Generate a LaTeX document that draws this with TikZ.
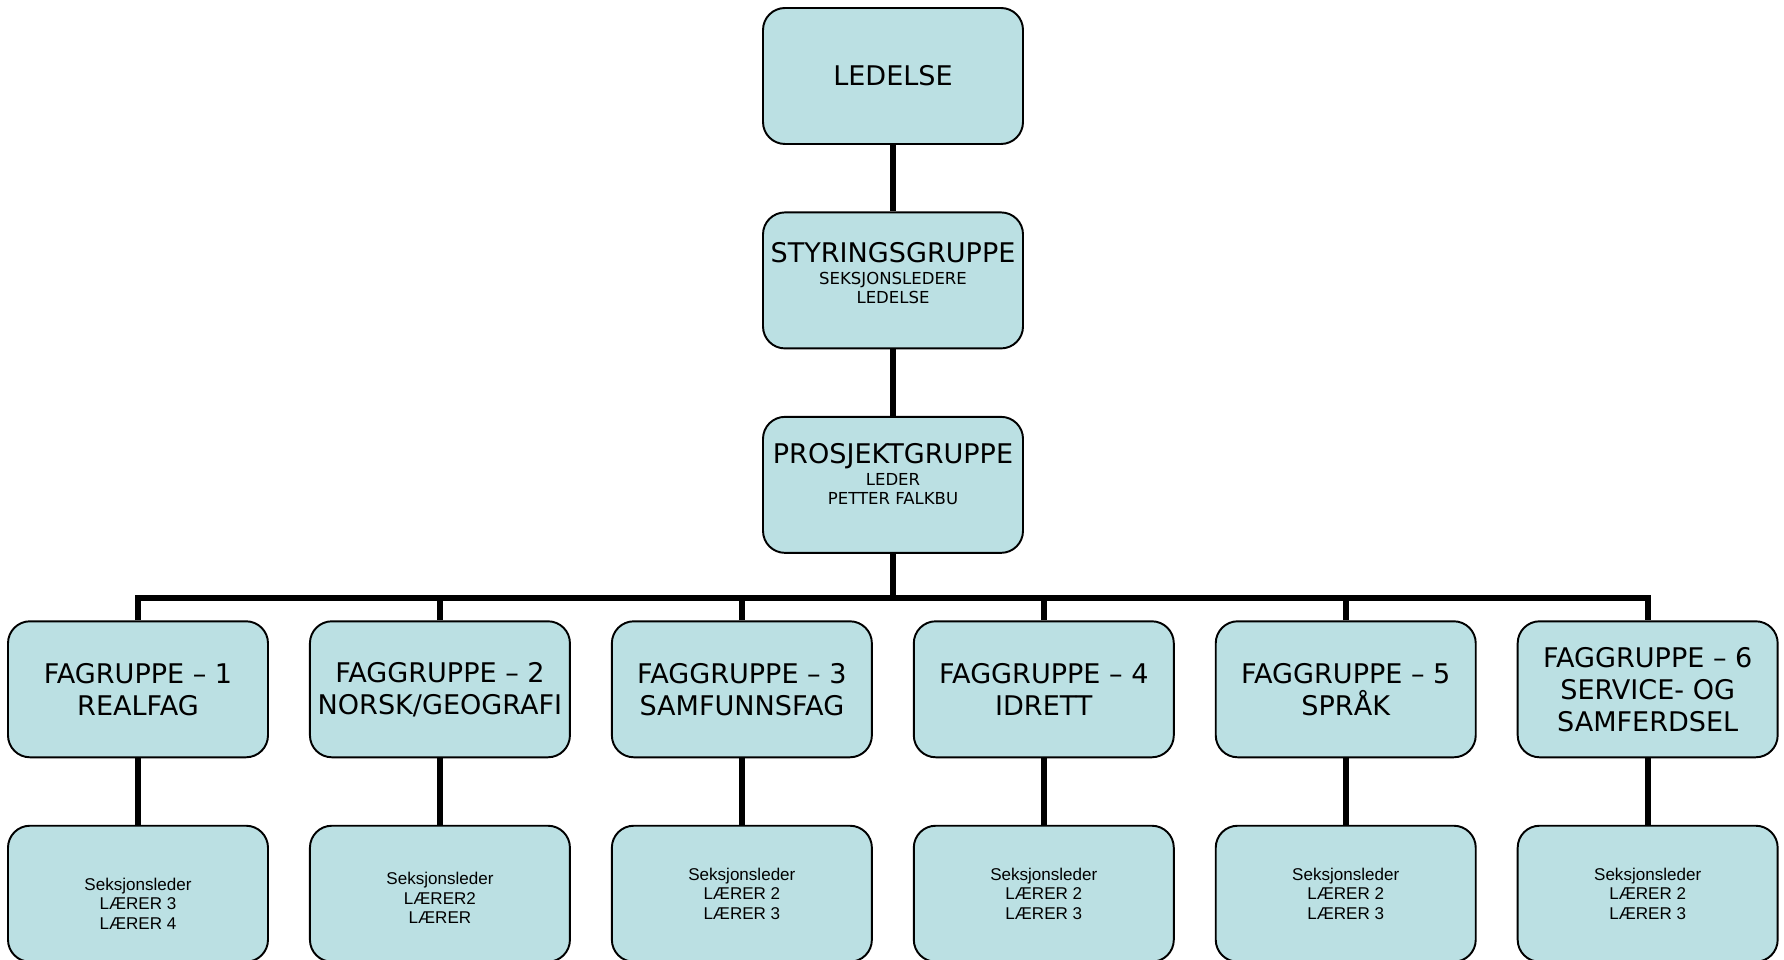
\documentclass[tikz,border=0pt]{standalone}
\usepackage{fontspec}
\setmainfont{DejaVu Sans}
\newfontfamily\lowfont{Liberation Sans}
\usepackage{tikz}
\usetikzlibrary{positioning,calc}

\definecolor{orgfill}{HTML}{BBE0E3}
\newcommand{\headsize}{\fontsize{15.4}{18.2}\selectfont}

\begin{document}
\begin{tikzpicture}[
    node distance=1.33cm and 0.80cm,
    unit/.style={rectangle, draw=black, line width=1.1pt, rounded corners=12.5pt, fill=orgfill, minimum width=5.2cm, minimum height=2.72cm, inner sep=0pt, align=center},
    unit_head/.style={unit, font=\headsize},
    unit_staff/.style={unit, font=\fontsize{9.4}{10.8}\selectfont},
    unit_fag/.style={unit, font=\headsize},
    unit_sek/.style={unit, font=\lowfont\fontsize{9.7}{11.1}\selectfont},
    wire/.style={line width=3.4pt, black},
]
\useasboundingbox (0,0) rectangle (35.68,19.2);
% Top of the chart
\node[unit_head] (led) at (17.86,17.68) {LEDELSE};
\node[unit_staff, below=of led, text depth=8pt] (styr) {{\headsize STYRINGSGRUPPE}\\[1.7pt]SEKSJONSLEDERE\\LEDELSE};
\node[unit_staff, below=of styr, text depth=12pt] (pros) {{\headsize PROSJEKTGRUPPE}\\[1.7pt]LEDER\\PETTER FALKBU};
% Faggrupper
\node[unit_fag, below=of pros, xshift=-15.1cm] (fag1) {FAGRUPPE – 1\\REALFAG};
\node[unit_fag, right=of fag1] (fag2) {FAGGRUPPE – 2\\NORSK/GEOGRAFI};
\node[unit_fag, right=of fag2] (fag3) {FAGGRUPPE – 3\\SAMFUNNSFAG};
\node[unit_fag, right=of fag3] (fag4) {FAGGRUPPE – 4\\IDRETT};
\node[unit_fag, right=of fag4] (fag5) {FAGGRUPPE – 5\\SPRÅK};
\node[unit_fag, right=of fag5] (fag6) {FAGGRUPPE – 6\\SERVICE- OG\\SAMFERDSEL};
% Seksjoner
\node[unit_sek, below=of fag1] (sek1) {\rule{0pt}{18.5pt}Seksjonsleder\\LÆRER 3\\LÆRER 4};
\node[unit_sek, below=of fag2] (sek2) {\rule{0pt}{12pt}Seksjonsleder\\LÆRER2\\LÆRER};
\node[unit_sek, below=of fag3] (sek3) {Seksjonsleder\\LÆRER 2\\LÆRER 3};
\node[unit_sek, below=of fag4] (sek4) {Seksjonsleder\\LÆRER 2\\LÆRER 3};
\node[unit_sek, below=of fag5] (sek5) {Seksjonsleder\\LÆRER 2\\LÆRER 3};
\node[unit_sek, below=of fag6] (sek6) {Seksjonsleder\\LÆRER 2\\LÆRER 3};
% Connectors
\draw[wire] (led) -- (styr);
\draw[wire] (styr) -- (pros);
\draw[wire] (pros.south) -- ++(0,-0.88) coordinate (bus);
\draw[wire] (fag1.north) |- (bus) -| (fag6.north);
\foreach \i in {2,...,5}
    \draw[wire] (fag\i.north) -- (fag\i.north |- bus);
\foreach \i in {1,...,6}
    \draw[wire] (fag\i) -- (sek\i);
\end{tikzpicture}
\end{document}
